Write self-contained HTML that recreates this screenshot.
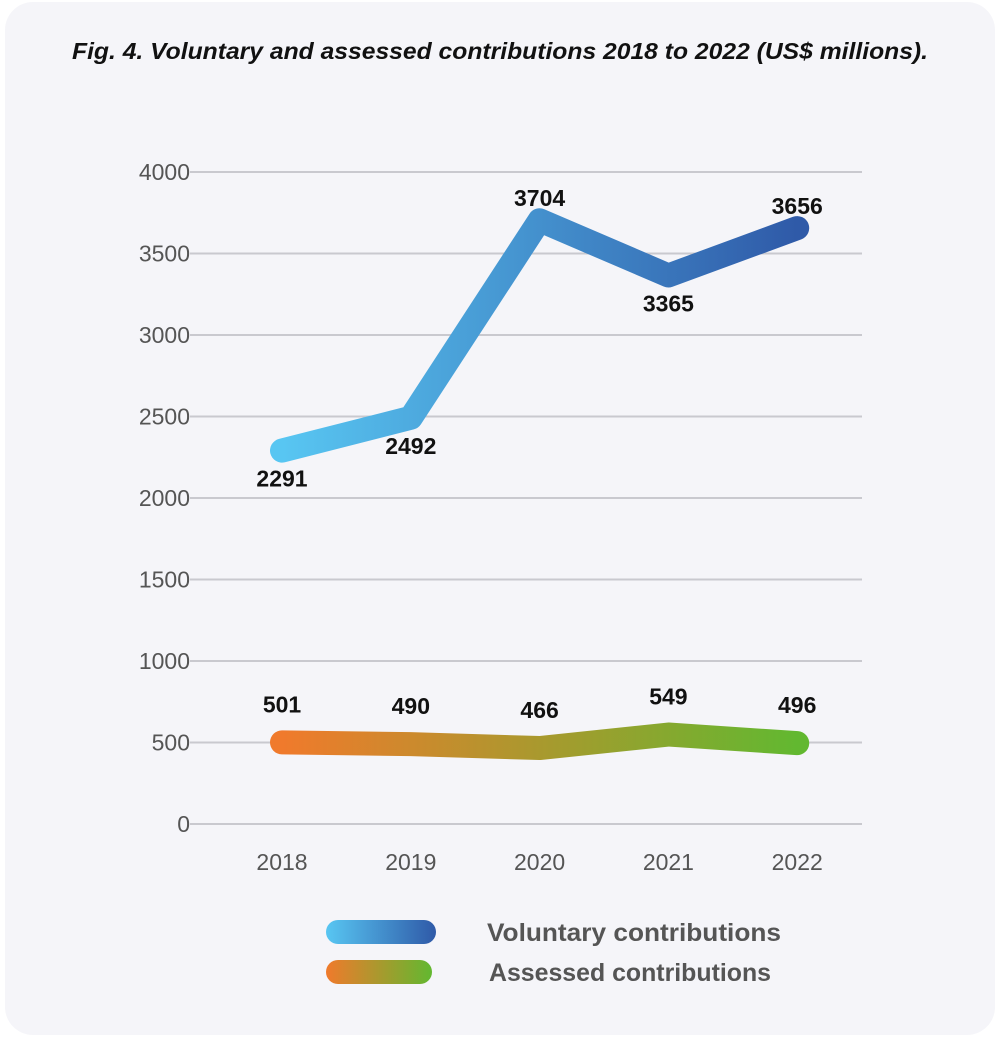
<!DOCTYPE html>
<html><head><meta charset="utf-8"><style>
body{margin:0;background:#fff;width:1000px;height:1043px;overflow:hidden;font-family:"Liberation Sans",sans-serif}
#card{position:absolute;left:5px;top:2px;width:990px;height:1033px;border-radius:28px;background:#f5f5f9}
</style></head><body>
<div id="card"></div>
<svg id="chart" width="1000" height="1043" style="position:absolute;left:0;top:0">
<defs>
<linearGradient id="gv" x1="0" x2="1"><stop offset="0" stop-color="#58c6f2"/><stop offset="1" stop-color="#2f5aa8"/></linearGradient>
<linearGradient id="ga" x1="0" x2="1"><stop offset="0" stop-color="#f07a2c"/><stop offset="1" stop-color="#62b830"/></linearGradient>
</defs>
<text x="500" y="59" text-anchor="middle" font-size="23" font-weight="bold" font-style="italic" fill="#111" textLength="856" lengthAdjust="spacingAndGlyphs">Fig. 4. Voluntary and assessed contributions 2018 to 2022 (US$ millions).</text>
<g id="grid"></g><g id="series"></g><g id="labels"></g>
<g>
<rect x="326" y="920" width="110" height="24" rx="12" fill="url(#gv)"/>
<text x="487" y="941" font-size="25" font-weight="bold" fill="#555" textLength="294" lengthAdjust="spacingAndGlyphs">Voluntary contributions</text>
<rect x="326" y="960" width="106" height="24" rx="12" fill="url(#ga)"/>
<text x="489" y="981" font-size="25" font-weight="bold" fill="#555" textLength="282" lengthAdjust="spacingAndGlyphs">Assessed contributions</text>
</g>
</svg>
<script>
const years=["2018","2019","2020","2021","2022"];
const voluntary=[2291,2492,3704,3365,3656];
const assessed=[501,490,466,549,496];
const yTicks=[0,500,1000,1500,2000,2500,3000,3500,4000];
const NS="http://www.w3.org/2000/svg";
const x=i=>282+i*128.8;
const y=v=>824-v*(652/4000);
function mk(t,a,p){const e=document.createElementNS(NS,t);for(const k in a)e.setAttribute(k,a[k]);p.appendChild(e);return e;}
const grid=document.getElementById('grid'),ser=document.getElementById('series'),lab=document.getElementById('labels');
yTicks.forEach(v=>{
 const l=mk('line',{x1:190,x2:862,y1:y(v),y2:y(v),stroke:'#c9c9cf','stroke-width':2},grid);
 
 
 const t=mk('text',{x:190,y:y(v)+8,'text-anchor':'end','font-size':23,fill:'#555'},grid);t.textContent=v;
 
 
});
years.forEach((yr,i)=>{
 const t=mk('text',{x:x(i),y:870,'text-anchor':'middle','font-size':23,fill:'#555'},grid);t.textContent=yr;
 
 
});
function line(vals,grad,name){
 const p=mk('polyline',{points:vals.map((v,i)=>x(i)+','+y(v)).join(' '),fill:'none',stroke:grad,'stroke-width':24,'stroke-linecap':'round','stroke-linejoin':'round'},ser);
 
 
}
line(voluntary,'url(#gv)','voluntary-line');
line(assessed,'url(#ga)','assessed-line');
function labels(vals,pos,name,up){
 vals.forEach((v,i)=>{
  const below=pos[i];
  const t=mk('text',{x:x(i),y:below?y(v)+36:y(v)-up,'text-anchor':'middle','font-size':23,'font-weight':'bold',fill:'#111'},lab);
  t.textContent=v;
  
  
 });
}
labels(voluntary,[1,1,0,1,0],'voluntary',14);
labels(assessed,[0,0,0,0,0],'assessed',30);
</script>
</body></html>
